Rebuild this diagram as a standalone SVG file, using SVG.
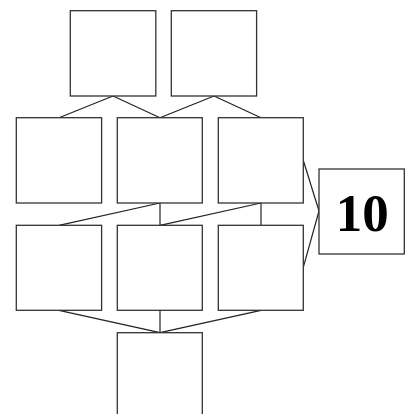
<svg xmlns="http://www.w3.org/2000/svg" width="406" height="414" viewBox="0 0 406 414">
<style>
.n{fill:#fff;stroke:#333;stroke-width:1.3}
.c line{stroke:#222;stroke-width:1.2}
.t{font-family:"Liberation Serif",serif;font-weight:bold;font-size:53px;text-anchor:middle;fill:#000}
</style>
<rect width="406" height="414" fill="#fff"/>
<g class="c" id="connectors">
<line x1="113" y1="96" x2="59" y2="117.7"/>
<line x1="113" y1="96" x2="160" y2="117.7"/>
<line x1="214" y1="96" x2="160" y2="117.7"/>
<line x1="214" y1="96" x2="261" y2="117.7"/>
<line x1="160" y1="203" x2="59" y2="225.3"/>
<line x1="160" y1="203" x2="160" y2="225.3"/>
<line x1="261" y1="203" x2="160" y2="225.3"/>
<line x1="261" y1="203" x2="261" y2="225.3"/>
<line x1="303.5" y1="161" x2="319" y2="211"/>
<line x1="303.5" y1="266.7" x2="319" y2="211"/>
<line x1="59" y1="310.3" x2="160" y2="332.7"/>
<line x1="160" y1="310.3" x2="160" y2="332.7"/>
<line x1="261" y1="310.3" x2="160" y2="332.7"/>
</g>
<g id="n1"><rect class="n" x="70.3" y="10.7" width="85.5" height="85.3"/></g>
<g id="n2"><rect class="n" x="171.3" y="10.7" width="85.3" height="85.3"/></g>
<g id="n3"><rect class="n" x="16.3" y="117.7" width="85.3" height="85.3"/></g>
<g id="n4"><rect class="n" x="117.3" y="117.7" width="85" height="85.3"/></g>
<g id="n5"><rect class="n" x="218.3" y="117.7" width="85" height="85.3"/></g>
<g id="n6"><rect class="n" x="16.3" y="225.3" width="85.3" height="85"/></g>
<g id="n7"><rect class="n" x="117.3" y="225.3" width="85" height="85"/></g>
<g id="n8"><rect class="n" x="218.3" y="225.3" width="85" height="85"/></g>
<g id="n9"><rect class="n" x="117.3" y="332.7" width="85" height="85"/></g>
<g id="n10"><rect class="n" x="319" y="169" width="85.3" height="85"/><text class="t" x="362.3" y="231">10</text></g>
</svg>
